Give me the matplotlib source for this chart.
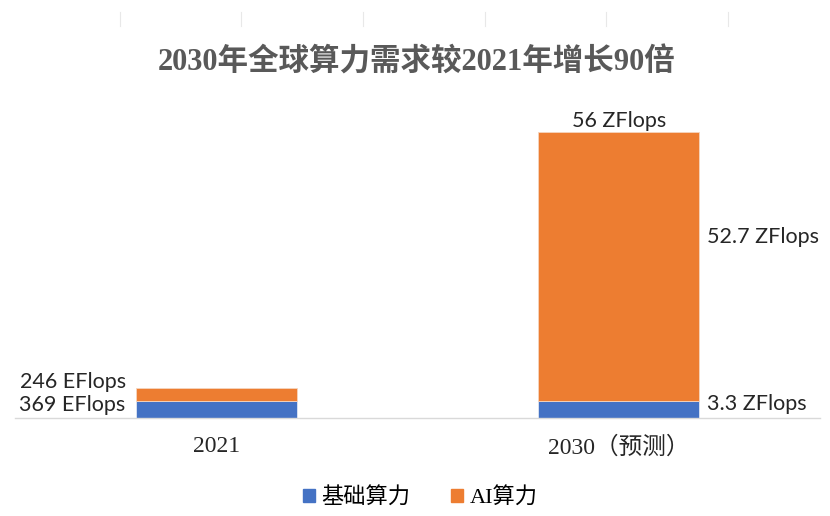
import matplotlib
matplotlib.use('Agg')
import matplotlib.pyplot as plt
from matplotlib.lines import Line2D
from matplotlib.patches import Patch

# data (heights as drawn in the chart, labels as printed)
categories = ['2021', '2030（预测）']
base_vals = [3.4, 3.3]      # 基础算力
ai_vals = [2.5, 52.7]       # AI算力
base_labels = ['369 EFlops', '3.3 ZFlops']
ai_labels = ['246 EFlops', '52.7 ZFlops']
total_label = '56 ZFlops'

blue = '#4472C4'
orange = '#ED7D31'
serif = ['Liberation Serif', 'Noto Sans CJK SC']
lab_font = ['Lato', 'DejaVu Sans']

fig = plt.figure(figsize=(8.3, 5.16), dpi=100)
ax = fig.add_axes([15/830, 98/516, 805/830, 318/516])

x = list(range(len(categories)))
w = 0.4
ax.bar(x, base_vals, w, color=blue, edgecolor='#dfe6f3', linewidth=0.6, label='基础算力')
ax.bar(x, ai_vals, w, bottom=base_vals, color=orange, edgecolor='#f6d5bf', linewidth=0.6, label='AI算力')

ax.set_xlim(-0.5, 1.5)
ax.set_ylim(0, 62.3)

for s in ['top', 'right', 'left']:
    ax.spines[s].set_visible(False)
ax.spines['bottom'].set_color('#d9d9d9')
ax.spines['bottom'].set_linewidth(1.0)
ax.set_yticks([])
ax.set_xticks(x)
ax.set_xticklabels(categories, family=serif, fontsize=17, color='#262626')
ax.tick_params(axis='x', length=0, pad=13)

# 2021 labels, left of the bar
ax.text(x[0] - w/2 - 0.025, 2.6, base_labels[0], ha='right', va='center',
        family=lab_font, fontsize=15.5, color='#262626')
ax.text(x[0] - w/2 - 0.025, 7.1, ai_labels[0], ha='right', va='center',
        family=lab_font, fontsize=15.5, color='#262626')
# 2030 labels
ax.text(x[1], base_vals[1] + ai_vals[1] + 0.3, total_label, ha='center', va='bottom',
        family=lab_font, fontsize=15.5, color='#262626')
ax.text(x[1] + w/2 + 0.02, 35.4, ai_labels[1], ha='left', va='center',
        family=lab_font, fontsize=15.5, color='#262626')
ax.text(x[1] + w/2 + 0.02, 2.7, base_labels[1], ha='left', va='center',
        family=lab_font, fontsize=15.5, color='#262626')

fig.text(417/830, 1 - 62/516, '2030年全球算力需求较2021年增长90倍', ha='center', va='center',
         family=serif, fontsize=22, fontweight='bold', color='#595959')

# faint marks at the very top
for px in [120, 241, 363, 485, 606, 728]:
    fig.add_artist(Line2D([px/830, px/830], [1 - 26/516, 1 - 12/516],
                          color='#e8e8e8', linewidth=0.8))

handles = [Patch(color=blue), Patch(color=orange)]
fig.legend(handles, ['基础算力', 'AI算力'], loc='center', bbox_to_anchor=(420/830, 1 - 498/516),
           ncol=2, frameon=False, prop={'family': serif, 'size': 16},
           handlelength=0.55, handleheight=0.55, handletextpad=0.3, columnspacing=1.8)

fig.savefig('out.png', dpi=100, facecolor='white')
